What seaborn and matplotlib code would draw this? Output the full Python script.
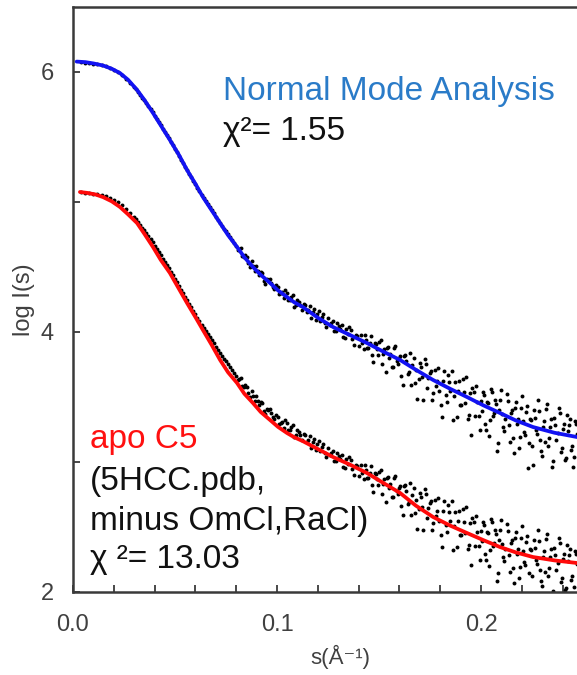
import matplotlib
matplotlib.use("Agg")
import matplotlib.pyplot as plt
from matplotlib.ticker import MultipleLocator, FormatStrFormatter
import seaborn as sns
import pandas as pd

# ---------------- data ----------------
# experimental SAXS data (lower copy); the upper copy is the same data shifted by OFFSET
exp_s_1 = [0.004, 0.006, 0.008, 0.010, 0.012, 0.014, 0.016, 0.018, 0.020, 0.022,
           0.024, 0.026, 0.028, 0.030, 0.032, 0.034, 0.036, 0.038, 0.040, 0.042,
           0.044, 0.046, 0.048, 0.050, 0.052, 0.054, 0.056, 0.058, 0.060, 0.062,
           0.064, 0.066, 0.068, 0.070, 0.072, 0.074, 0.076, 0.078, 0.080,
           0.0815, 0.0830, 0.0845, 0.0860, 0.0875, 0.0890, 0.0905, 0.0920, 0.0935, 0.0950,
           0.0965, 0.0980, 0.0995, 0.1010, 0.1025, 0.1040, 0.1055, 0.1070, 0.1085, 0.1100,
           0.1115, 0.1130, 0.1145, 0.1160, 0.1175, 0.1190, 0.1205, 0.1220, 0.1235, 0.1250,
           0.1265, 0.1280, 0.1295, 0.1310, 0.1325, 0.1340, 0.1355, 0.1370, 0.1385, 0.1400,
           0.1412, 0.1424, 0.1436, 0.1448, 0.1460, 0.1472, 0.1484, 0.1496, 0.1508, 0.1520,
           0.1532, 0.1544, 0.1556, 0.1568, 0.1580, 0.1592, 0.1604, 0.1616, 0.1628, 0.1640,
           0.1652, 0.1664, 0.1676, 0.1688, 0.1700, 0.1712, 0.1724, 0.1736, 0.1748, 0.1760,
           0.1772, 0.1784, 0.1796, 0.1808, 0.1820, 0.1832, 0.1844, 0.1856, 0.1868, 0.1880,
           0.1892, 0.1904, 0.1916, 0.1928, 0.1940, 0.1952, 0.1964, 0.1976, 0.1988, 0.2000,
           0.2010, 0.2020, 0.2030, 0.2040, 0.2050, 0.2060, 0.2070, 0.2080, 0.2090, 0.2100,
           0.2110, 0.2120, 0.2130, 0.2140, 0.2150, 0.2160, 0.2170, 0.2180, 0.2190, 0.2200,
           0.2210, 0.2220, 0.2230, 0.2240, 0.2250, 0.2260, 0.2270, 0.2280, 0.2290, 0.2300,
           0.2310, 0.2320, 0.2330, 0.2340, 0.2350, 0.2360, 0.2370, 0.2380, 0.2390, 0.2400,
           0.2410, 0.2420, 0.2430, 0.2440, 0.2450, 0.2460, 0.2470]
exp_logI_1 = [5.075, 5.071, 5.067, 5.063, 5.059, 5.055, 5.044, 5.029, 5.014, 4.999,
              4.976, 4.945, 4.914, 4.883, 4.848, 4.803, 4.758, 4.712, 4.665, 4.615,
              4.565, 4.514, 4.463, 4.408, 4.353, 4.298, 4.243, 4.190, 4.137, 4.083,
              4.030, 3.983, 3.935, 3.888, 3.840, 3.796, 3.752, 3.707, 3.663,
              3.642, 3.583, 3.593, 3.534, 3.544, 3.468, 3.466, 3.465, 3.393, 3.410,
              3.408, 3.349, 3.359, 3.290, 3.310, 3.321, 3.243, 3.268, 3.193, 3.249,
              3.204, 3.219, 3.153, 3.198, 3.152, 3.096, 3.161, 3.115, 3.070, 3.104,
              3.068, 3.004, 3.073, 3.022, 2.961, 3.020, 3.039, 2.948, 2.977, 2.895,
              2.976, 2.868, 2.939, 2.879, 2.970, 2.770, 2.911, 2.821, 2.941, 2.832,
              2.692, 2.883, 2.833, 2.734, 2.894, 2.754, 2.815, 2.593, 2.821, 2.680,
              2.838, 2.747, 2.606, 2.484, 2.763, 2.651, 2.790, 2.569, 2.687, 2.476,
              2.705, 2.626, 2.546, 2.347, 2.697, 2.458, 2.618, 2.699, 2.509, 2.350,
              2.621, 2.441, 2.542, 2.652, 2.363, 2.204, 2.535, 2.586, 2.357, 2.468,
              2.540, 2.292, 2.465, 2.197, 2.560, 2.352, 2.474, 2.087, 2.399, 2.552,
              2.266, 2.329, 2.472, 2.155, 2.399, 2.072, 2.465, 2.329, 2.192, 2.505,
              2.229, 2.382, 1.955, 2.329, 2.122, 2.397, 2.244, 2.480, 2.166, 2.043,
              2.319, 2.406, 2.122, 2.268, 1.965, 2.341, 2.168, 2.414, 2.080, 2.257,
              2.013, 2.360, 2.286, 2.092, 1.959, 2.315, 2.212]
exp_s_2 = [0.031, 0.033, 0.035, 0.037, 0.039, 0.041, 0.043, 0.045, 0.047, 0.049,
           0.051, 0.053, 0.055, 0.057, 0.059, 0.061, 0.063, 0.065, 0.067, 0.069,
           0.071, 0.073, 0.075, 0.077, 0.079,
           0.08075, 0.08225, 0.08375, 0.08525, 0.08675, 0.08825, 0.08975, 0.09125,
           0.09275, 0.09425, 0.09575, 0.09725, 0.09875, 0.10025, 0.10175, 0.10325,
           0.10475, 0.10625, 0.10775, 0.10925, 0.11075, 0.11225, 0.11375, 0.11525,
           0.11675, 0.11825, 0.11975, 0.12125, 0.12275, 0.12425, 0.12575, 0.12725,
           0.12875, 0.13025, 0.13175, 0.13325, 0.13475, 0.13625, 0.13775, 0.13925,
           0.1418, 0.1430, 0.1442, 0.1454, 0.1466, 0.1478, 0.1490, 0.1502, 0.1514, 0.1526,
           0.1538, 0.1550, 0.1562, 0.1574, 0.1586, 0.1598, 0.1610, 0.1622, 0.1634, 0.1646,
           0.1658, 0.1670, 0.1682, 0.1694, 0.1706, 0.1718, 0.1730, 0.1742, 0.1754, 0.1766,
           0.1778, 0.1790, 0.1802, 0.1814, 0.1826, 0.1838, 0.1850, 0.1862, 0.1874, 0.1886,
           0.1898, 0.1910, 0.1922, 0.1934, 0.1946, 0.1958, 0.1970, 0.1982, 0.1994,
           0.2005, 0.2015, 0.2025, 0.2035, 0.2045, 0.2055, 0.2065, 0.2075, 0.2085, 0.2095,
           0.2105, 0.2115, 0.2125, 0.2135, 0.2145, 0.2155, 0.2165, 0.2175, 0.2185, 0.2195,
           0.2205, 0.2215, 0.2225, 0.2235, 0.2245, 0.2255, 0.2265, 0.2275, 0.2285, 0.2295,
           0.2305, 0.2315, 0.2325, 0.2335, 0.2345, 0.2355, 0.2365, 0.2375, 0.2385, 0.2395,
           0.2405, 0.2415, 0.2425, 0.2435, 0.2445, 0.2455, 0.2465]
exp_logI_2 = [4.866, 4.826, 4.781, 4.735, 4.689, 4.640, 4.590, 4.540, 4.489, 4.436,
              4.381, 4.326, 4.271, 4.217, 4.164, 4.110, 4.057, 4.007, 3.959, 3.912,
              3.864, 3.818, 3.774, 3.730, 3.685,
              3.627, 3.648, 3.578, 3.579, 3.499, 3.511, 3.507, 3.436, 3.454, 3.372,
              3.399, 3.379, 3.329, 3.350, 3.300, 3.261, 3.302, 3.246, 3.281, 3.206,
              3.232, 3.167, 3.211, 3.166, 3.110, 3.174, 3.139, 3.083, 3.138, 3.042,
              3.057, 3.081, 3.009, 3.048, 3.057, 2.956, 2.986, 3.014, 2.903, 2.971,
              2.912, 2.974, 2.874, 2.915, 2.825, 2.916, 2.866, 2.926, 2.757, 2.867,
              2.878, 2.798, 2.729, 2.879, 2.779, 2.800, 2.659, 2.817, 2.776, 2.694,
              2.593, 2.802, 2.710, 2.639, 2.727, 2.476, 2.755, 2.643, 2.702, 2.531,
              2.581, 2.721, 2.442, 2.622, 2.513, 2.673, 2.544, 2.324, 2.615, 2.546,
              2.436, 2.637, 2.457, 2.328, 2.529, 2.570, 2.351, 2.462, 2.243,
              2.394, 2.516, 2.248, 2.451, 2.322, 2.536, 2.376, 2.446, 2.143, 2.475,
              2.370, 2.242, 2.525, 2.282, 2.379, 2.185, 2.417, 2.292, 2.108, 2.414,
              2.317, 2.207, 2.430, 2.145, 2.320, 1.979, 2.342, 2.218, 2.394, 2.081,
              2.267, 2.153, 2.449, 2.186, 2.333, 2.007, 2.286, 2.221, 2.380, 2.104,
              2.293, 2.027, 2.235, 2.330, 2.122, 2.042, 2.293]
OFFSET = 1.0

# Normal Mode Analysis fit (blue)
nma_s = [0.0018, 0.0060, 0.0100, 0.0147, 0.0190, 0.0230, 0.0270, 0.0314, 0.0350, 0.0392,
         0.0430, 0.0475, 0.0520, 0.0559, 0.0600, 0.0637, 0.0680, 0.0721, 0.0760, 0.0804,
         0.0840, 0.0882, 0.0920, 0.0966, 0.1005, 0.1049, 0.1085, 0.1127, 0.1200, 0.1275,
         0.1360, 0.1441, 0.1520, 0.1603, 0.1680, 0.1765, 0.1850, 0.1931, 0.2010, 0.2093,
         0.2170, 0.2255, 0.2360, 0.2471, 0.2620]
nma_logI = [6.080, 6.076, 6.066, 6.050, 6.025, 5.992, 5.940, 5.862, 5.785, 5.685,
            5.590, 5.477, 5.360, 5.246, 5.140, 5.038, 4.935, 4.838, 4.745, 4.654,
            4.575, 4.500, 4.440, 4.377, 4.320, 4.269, 4.228, 4.192, 4.110, 4.038,
            3.975, 3.915, 3.850, 3.785, 3.710, 3.631, 3.562, 3.500, 3.437, 3.377,
            3.320, 3.269, 3.225, 3.192, 3.170]
# apo C5 fit (red)
apo_s = [0.0034, 0.0070, 0.0110, 0.0147, 0.0190, 0.0230, 0.0270, 0.0314, 0.0350, 0.0392,
         0.0430, 0.0475, 0.0520, 0.0559, 0.0600, 0.0637, 0.0680, 0.0721, 0.0760, 0.0804,
         0.0840, 0.0882, 0.0920, 0.0966, 0.1005, 0.1049, 0.1085, 0.1127, 0.1200, 0.1275,
         0.1360, 0.1441, 0.1520, 0.1603, 0.1680, 0.1765, 0.1850, 0.1931, 0.2010, 0.2093,
         0.2170, 0.2255, 0.2360, 0.2471, 0.2620]
apo_logI = [5.077, 5.070, 5.058, 5.038, 5.005, 4.962, 4.905, 4.838, 4.755, 4.654,
            4.555, 4.454, 4.330, 4.223, 4.115, 4.015, 3.900, 3.785, 3.690, 3.608,
            3.525, 3.454, 3.385, 3.323, 3.270, 3.223, 3.190, 3.160, 3.100, 3.038,
            2.978, 2.915, 2.840, 2.762, 2.665, 2.577, 2.510, 2.454, 2.400, 2.346,
            2.305, 2.269, 2.243, 2.223, 2.205]

x_ticks = [0.0, 0.1, 0.2]
y_ticks = [2, 4, 6]

# ---------------- figure ----------------
sns.set_theme(style="ticks")
plt.rcParams["font.family"] = ["Liberation Sans", "DejaVu Sans"]

W, H = 577, 675
fig = plt.figure(figsize=(W / 100, H / 100), dpi=100)
ax = fig.add_axes([73 / W, 83 / H, 534.5 / W, 585 / H])

exp_s = exp_s_1 + exp_s_2
exp_logI = exp_logI_1 + exp_logI_2
exp_df = pd.DataFrame({"s": exp_s, "logI": exp_logI})
up_df = pd.DataFrame({"s": exp_s, "logI": [v + OFFSET for v in exp_logI]})

sns.scatterplot(data=exp_df, x="s", y="logI", ax=ax, color="black", s=8,
                linewidth=0, zorder=2, legend=False)
sns.scatterplot(data=up_df, x="s", y="logI", ax=ax, color="black", s=8,
                linewidth=0, zorder=2, legend=False)
sns.lineplot(x=nma_s, y=nma_logI, ax=ax, color="#1212F2", linewidth=2.7,
             sort=False, zorder=3)
sns.lineplot(x=apo_s, y=apo_logI, ax=ax, color="#FF0A0A", linewidth=2.7,
             sort=False, zorder=3)

ax.set_xlim(0, 0.262)
ax.set_ylim(2, 6.5)
ax.set_xticks(x_ticks)
ax.set_yticks(y_ticks)
ax.xaxis.set_major_formatter(FormatStrFormatter("%.1f"))
ax.xaxis.set_minor_locator(MultipleLocator(0.02))
ax.yaxis.set_minor_locator(MultipleLocator(1))
ax.tick_params(which="both", direction="in", length=5, width=1.3,
               color="#3a3a3a", labelcolor="#404040", labelsize=17)
ax.tick_params(axis="y", which="both", pad=14)
ax.tick_params(axis="x", which="both", pad=16)
for side in ["left", "bottom", "top"]:
    ax.spines[side].set_color("#3a3a3a")
    ax.spines[side].set_linewidth(1.8)
ax.spines["right"].set_visible(False)

ax.set_xlabel("s(Å⁻¹)", fontsize=16, color="#404040", labelpad=6)
ax.set_ylabel("log I(s)", fontsize=17, color="#404040")
ax.yaxis.set_label_coords(-38 / 534.5, 0.5)

tk = dict(fontsize=24, va="baseline", ha="left")
fig.text(223 / W, 1 - 100 / H, "Normal Mode Analysis", color="#2A7BC8", **tk)
fig.text(223 / W, 1 - 140 / H, "χ²= 1.55", color="#111111", **tk)
fig.text(90 / W, 1 - 448 / H, "apo C5", color="#FF1010", **tk)
fig.text(90 / W, 1 - 490 / H, "(5HCC.pdb,", color="#111111", **tk)
fig.text(90 / W, 1 - 530 / H, "minus OmCl,RaCl)", color="#111111", **tk)
fig.text(90 / W, 1 - 568 / H, "χ ²= 13.03", color="#111111", **tk)

fig.savefig("out.png", dpi=100)
